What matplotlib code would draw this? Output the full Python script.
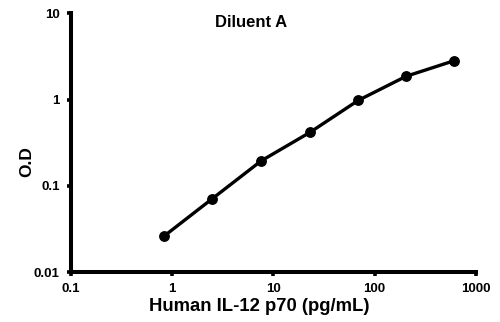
import matplotlib
matplotlib.use("Agg")
import matplotlib.pyplot as plt
from matplotlib.ticker import FixedLocator, FixedFormatter, NullLocator

plt.rcParams["font.family"] = ["Liberation Sans", "DejaVu Sans"]
plt.rcParams["font.weight"] = "bold"

# standard curve
conc = [0.83, 2.5, 7.6, 23, 69, 204, 608]
od = [0.026, 0.071, 0.195, 0.417, 0.98, 1.86, 2.82]

x_ticks = [0.1, 1, 10, 100, 1000]
x_labels = ["0.1", "1", "10", "100", "1000"]
y_ticks = [0.01, 0.1, 1, 10]
y_labels = ["0.01", "0.1", "1", "10"]

fig = plt.figure(figsize=(5.0, 3.22), dpi=100)
ax = fig.add_axes([0.1414, 0.155, 0.8106, 0.8037])

ax.plot(conc, od, color="black", lw=2.4, marker="o", ms=6.8, solid_capstyle="round")

ax.set_xscale("log")
ax.set_yscale("log")
ax.set_xlim(0.1, 1000)
ax.set_ylim(0.01, 10)

ax.xaxis.set_major_locator(FixedLocator(x_ticks))
ax.xaxis.set_major_formatter(FixedFormatter(x_labels))
ax.yaxis.set_major_locator(FixedLocator(y_ticks))
ax.yaxis.set_major_formatter(FixedFormatter(y_labels))
ax.xaxis.set_minor_locator(NullLocator())
ax.yaxis.set_minor_locator(NullLocator())

for side in ["top", "right"]:
    ax.spines[side].set_visible(False)
for side in ["left", "bottom"]:
    ax.spines[side].set_linewidth(2.9)

ax.tick_params(axis="both", direction="out", length=3, width=2.6, labelsize=9.5, pad=5)
for lab in ax.get_xticklabels() + ax.get_yticklabels():
    lab.set_fontweight("bold")

ax.set_xlabel("Human IL-12 p70 (pg/mL)", fontsize=13.3, fontweight="bold")
ax.xaxis.set_label_coords(0.465, -0.1)
ax.set_ylabel("O.D", fontsize=12.5, fontweight="bold")
ax.yaxis.set_label_coords(-0.089, 0.429)
ax.text(0.445, 0.966, "Diluent A", transform=ax.transAxes, ha="center", va="center",
        fontsize=12, fontweight="bold")

fig.savefig("out.png", dpi=100)
